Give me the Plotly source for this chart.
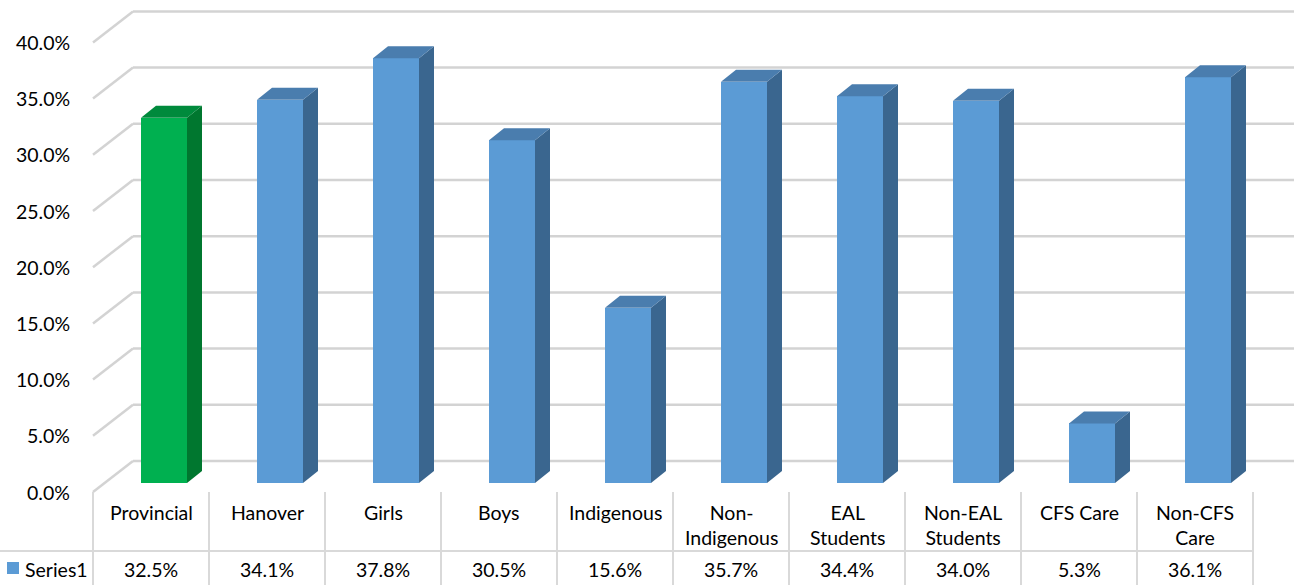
import plotly.graph_objects as go

# ---------------- data ----------------
categories = ["Provincial", "Hanover", "Girls", "Boys", "Indigenous",
              "Non-Indigenous", "EAL Students", "Non-EAL Students", "CFS Care", "Non-CFS Care"]
category_labels = ["Provincial", "Hanover", "Girls", "Boys", "Indigenous",
                   "Non-<br>Indigenous", "EAL<br>Students", "Non-EAL<br>Students", "CFS Care", "Non-CFS<br>Care"]
values = [32.5, 34.1, 37.8, 30.5, 15.6, 35.7, 34.4, 34.0, 5.3, 36.1]
series_name = "Series1"
y_ticks = [0, 5, 10, 15, 20, 25, 30, 35, 40]

# ---------------- geometry (pixel based layout) ----------------
W, H = 1294, 585
PX_CAT = 116.0      # pixels per category
PX_PCT = 11.24      # pixels per percent
X0_PX = 151.0       # pixel centre of category 0
Y0_PX = 483.0       # pixel of 0% at the bar front plane


def px2x(px):
    return (px - X0_PX) / PX_CAT


def px2y(py):
    return (Y0_PX - py) / PX_PCT


FONT = "Lato, 'Open Sans', sans-serif"
FS = 19.5

blue_front, blue_side, blue_top = "#5B9BD5", "#3A668F", "#4A7DAE"
green_front, green_side, green_top = "#00B050", "#00772F", "#008A3C"

front_cols = [green_front] + [blue_front] * (len(values) - 1)
side_cols = [green_side] + [blue_side] * (len(values) - 1)
top_cols = [green_top] + [blue_top] * (len(values) - 1)

bar_off = 13.0 / PX_CAT
bar_w = 46.0 / PX_CAT
ddx = 15.0 / PX_CAT
ddy = 12.0 / PX_PCT

fig = go.Figure()

# front faces
fig.add_trace(go.Bar(
    x=[i + bar_off for i in range(len(values))], y=values, width=bar_w,
    marker=dict(color=front_cols, line=dict(width=0)),
    hoverinfo="skip", showlegend=False,
))

# side and top faces
for i, v in enumerate(values):
    xl = i + bar_off - bar_w / 2
    xr = i + bar_off + bar_w / 2
    fig.add_trace(go.Scatter(
        x=[xr, xr + ddx, xr + ddx, xr, xr], y=[0, ddy, v + ddy, v, 0],
        fill="toself", fillcolor=side_cols[i], mode="lines",
        line=dict(width=0, color=side_cols[i]), hoverinfo="skip", showlegend=False))
    fig.add_trace(go.Scatter(
        x=[xl, xl + ddx, xr + ddx, xr, xl], y=[v, v + ddy, v + ddy, v, v],
        fill="toself", fillcolor=top_cols[i], mode="lines",
        line=dict(width=0, color=top_cols[i]), hoverinfo="skip", showlegend=False))

shapes = []
annotations = []
grid_col = "#D3D3D3"

# back-wall gridlines with diagonal side-wall segment
front_dy = px2y(492)          # offset of front-left end
back_dy = px2y(461)           # offset of back plane
for t in y_ticks:
    shapes.append(dict(type="line", xref="x", yref="y", layer="below",
                       x0=px2x(93), y0=t + front_dy, x1=px2x(133), y1=t + back_dy,
                       line=dict(color=grid_col, width=2.5)))
    shapes.append(dict(type="line", xref="x", yref="y", layer="below",
                       x0=px2x(133), y0=t + back_dy, x1=px2x(W), y1=t + back_dy,
                       line=dict(color=grid_col, width=2.5)))
    annotations.append(dict(xref="x", yref="y", x=px2x(72), y=t + front_dy,
                            text=f"{t:.1f}%", showarrow=False, xanchor="right",
                            yanchor="middle", font=dict(family=FONT, size=FS, color="#000")))

# data table
tbl_col = "#D9D9D9"
n = len(values)
for k in range(n + 1):
    shapes.append(dict(type="line", xref="x", yref="y",
                       x0=k - 0.5, x1=k - 0.5, y0=px2y(492), y1=px2y(H),
                       line=dict(color=tbl_col, width=2)))
shapes.append(dict(type="line", xref="x", yref="y",
                   x0=px2x(0), x1=n - 0.5, y0=px2y(551), y1=px2y(551),
                   line=dict(color=tbl_col, width=2)))

for i, (lab, v) in enumerate(zip(category_labels, values)):
    annotations.append(dict(xref="x", yref="y", x=i, y=px2y(499), text=lab,
                            showarrow=False, xanchor="center", yanchor="top",
                            font=dict(family=FONT, size=FS, color="#000")))
    annotations.append(dict(xref="x", yref="y", x=i, y=px2y(569), text=f"{v:.1f}%",
                            showarrow=False, xanchor="center", yanchor="middle",
                            font=dict(family=FONT, size=FS, color="#000")))

# legend key + series name
shapes.append(dict(type="rect", xref="x", yref="y",
                   x0=px2x(7), x1=px2x(19), y0=px2y(574), y1=px2y(562),
                   fillcolor=blue_front, line=dict(width=0)))
annotations.append(dict(xref="x", yref="y", x=px2x(23), y=px2y(569), text=series_name,
                        showarrow=False, xanchor="left", yanchor="middle",
                        font=dict(family=FONT, size=FS, color="#000")))

fig.update_layout(
    width=W, height=H, autosize=False,
    margin=dict(l=0, r=0, t=0, b=0, pad=0),
    paper_bgcolor="white", plot_bgcolor="white",
    xaxis=dict(range=[px2x(0), px2x(W)], visible=False, fixedrange=True),
    yaxis=dict(range=[px2y(H), px2y(0)], visible=False, fixedrange=True),
    shapes=shapes, annotations=annotations, showlegend=False,
    bargap=0,
)

fig.write_html("out.html", config={"displayModeBar": False})
